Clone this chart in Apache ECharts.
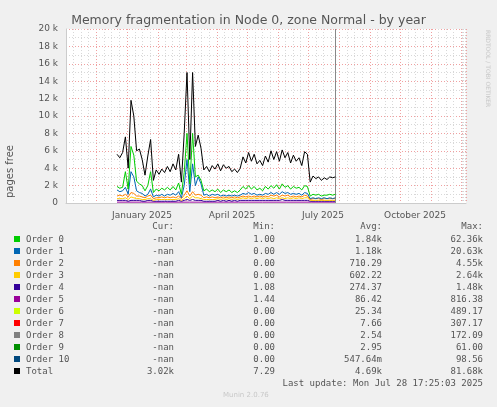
<!DOCTYPE html>
<html><head><meta charset="utf-8">
<script src="https://cdn.jsdelivr.net/npm/echarts@6/dist/echarts.min.js"></script>
<style>html,body{margin:0;background:#f0f0f0}#c{width:497px;height:407px}</style>
</head><body><div id="c"></div>
<script>
// samples every 2.8 days from 2024-12-22, values in thousands of pages
var startDay = '2024-12-22';
var stepDays = 2.8;
var total = [5.6,5.2,5.8,7.6,4.0,11.8,10.0,6.0,6.2,5.0,3.2,5.4,7.3,2.6,3.8,3.3,3.9,3.5,4.2,3.6,4.5,3.8,5.6,2.4,8.0,15.0,5.0,15.0,6.5,7.8,6.3,3.8,4.2,3.6,4.3,3.9,4.5,3.7,4.4,4.0,4.2,3.6,3.9,3.5,4.0,5.3,4.6,5.8,4.8,5.6,4.5,4.9,4.3,5.4,4.7,6.0,5.0,5.9,4.8,6.1,5.2,5.8,4.6,5.5,4.8,5.2,4.3,5.9,5.6,2.4,3.1,2.8,3.0,2.6,2.9,2.7,3.0,2.9,3.0];
var order0 = [1.9,1.7,1.8,3.6,1.6,6.5,5.5,2.5,2.2,2.0,1.4,2.0,3.6,1.2,1.6,1.4,1.7,1.5,1.8,1.5,1.9,1.5,2.3,1.0,3.5,8.0,2.2,8.0,3.0,3.2,2.6,1.4,1.6,1.3,1.5,1.3,1.6,1.2,1.5,1.3,1.5,1.2,1.4,1.2,1.5,1.9,1.6,2.0,1.6,1.9,1.5,1.7,1.4,1.9,1.6,2.0,1.7,2.1,1.6,2.2,1.8,2.0,1.6,1.9,1.7,1.8,1.5,2.0,1.9,0.8,1.0,0.9,1.0,0.8,0.9,0.9,1.0,0.9,1.0];
var order1 = [1.5,1.3,1.4,1.8,1.0,3.6,3.0,1.4,1.2,1.1,0.8,1.0,1.6,0.7,0.9,0.8,1.0,0.8,1.0,0.9,1.1,0.9,1.3,0.6,2.0,5.0,1.3,4.5,2.0,3.0,2.2,0.9,1.0,0.8,1.0,0.9,1.0,0.8,0.9,0.8,0.9,0.8,0.9,0.8,0.9,1.1,1.0,1.2,1.0,1.1,0.9,1.0,0.9,1.1,1.0,1.2,1.0,1.2,1.0,1.3,1.1,1.2,1.0,1.1,1.0,1.1,0.9,1.2,1.1,0.5,0.6,0.5,0.6,0.5,0.6,0.5,0.6,0.5,0.6];
var order2 = [0.8,0.9,0.8,1.0,0.7,1.2,1.1,0.8,0.8,0.7,0.6,0.8,0.9,0.5,0.6,0.6,0.7,0.6,0.7,0.6,0.7,0.6,0.8,0.5,0.9,1.4,0.8,1.3,0.9,1.0,0.9,0.6,0.7,0.6,0.7,0.6,0.7,0.6,0.7,0.6,0.7,0.6,0.7,0.6,0.7,0.8,0.7,0.8,0.7,0.8,0.7,0.8,0.7,0.8,0.7,0.9,0.8,0.9,0.7,0.9,0.8,0.9,0.7,0.8,0.7,0.8,0.7,0.9,0.8,0.4,0.5,0.5,0.5,0.4,0.5,0.5,0.5,0.5,0.5];
var order3 = [0.5,0.5,0.5,0.6,0.4,0.7,0.6,0.5,0.5,0.4,0.4,0.5,0.5,0.3,0.4,0.4,0.4,0.4,0.4,0.4,0.4,0.4,0.5,0.3,0.5,0.8,0.5,0.8,0.6,0.6,0.5,0.4,0.4,0.4,0.4,0.4,0.5,0.4,0.5,0.4,0.5,0.4,0.5,0.4,0.5,0.6,0.5,0.6,0.5,0.6,0.5,0.6,0.5,0.6,0.5,0.6,0.5,0.6,0.5,0.6,0.5,0.6,0.5,0.6,0.5,0.6,0.5,0.6,0.6,0.3,0.3,0.3,0.3,0.3,0.3,0.3,0.3,0.3,0.3];
var order4 = [0.3,0.3,0.3,0.3,0.2,0.3,0.3,0.3,0.3,0.2,0.2,0.3,0.3,0.2,0.2,0.2,0.2,0.2,0.2,0.2,0.2,0.2,0.3,0.2,0.3,0.4,0.3,0.4,0.3,0.3,0.3,0.2,0.2,0.2,0.2,0.2,0.3,0.2,0.3,0.2,0.3,0.2,0.3,0.2,0.3,0.3,0.3,0.3,0.3,0.3,0.3,0.3,0.3,0.3,0.3,0.3,0.3,0.3,0.3,0.4,0.3,0.3,0.3,0.3,0.3,0.3,0.3,0.3,0.3,0.2,0.2,0.2,0.2,0.2,0.2,0.2,0.2,0.2,0.2];
var order5 = [0.1,0.1,0.1,0.1,0.1,0.1,0.1,0.1,0.1,0.1];
var names = ['Order 0','Order 1','Order 2','Order 3','Order 4','Order 5','Order 6','Order 7','Order 8','Order 9','Order 10','Total'];
var colors = ['#00cc00','#0066b3','#ff8000','#ffcc00','#330099','#990099','#ccff00','#ff0000','#808080','#008f00','#00487d','#000000'];
var curVals = ['-nan','-nan','-nan','-nan','-nan','-nan','-nan','-nan','-nan','-nan','-nan','3.02k'];
var minVals = ['1.00','0.00','0.00','0.00','1.08','1.44','0.00','0.00','0.00','0.00','0.00','7.29'];
var avgVals = ['1.84k','1.18k','710.29','602.22','274.37','86.42','25.34','7.66','2.54','2.95','547.64m','4.69k'];
var maxVals = ['62.36k','20.63k','4.55k','2.64k','1.48k','816.38','489.17','307.17','172.09','61.00','98.56','81.68k'];

var t0 = new Date(startDay + 'T00:00:00Z').getTime();
var dayMs = 86400000;
function pts(arr) {
  var step = arr.length < 20 ? (total.length - 1) * stepDays / (arr.length - 1) : stepDays;
  return arr.map(function (v, i) { return [t0 + i * step * dayMs, v]; });
}
var seriesData = [order0, order1, order2, order3, order4, order5];
var series = [];
[4, 5, 3, 2, 1, 0].forEach(function (k) {
  series.push({ type: 'line', name: names[k], data: pts(seriesData[k]), showSymbol: false,
    lineStyle: { width: 1, color: colors[k] }, z: 2 + (5 - k) });
});
series.push({ type: 'line', name: 'Total', data: pts(total), showSymbol: false, z: 10,
  lineStyle: { width: 1, color: '#000' },
  markLine: { silent: true, symbol: 'none', label: { show: false },
    lineStyle: { color: '#888', type: 'solid', width: 1 },
    data: [{ xAxis: new Date('2025-07-28T17:25:00Z').getTime() }] } });

var mono = 'DejaVu Sans Mono';
var g = [];
var cols = [[174, curVals], [275, minVals], [382, avgVals], [483, maxVals]];
['Cur:', 'Min:', 'Avg:', 'Max:'].forEach(function (h, j) {
  g.push({ type: 'text', right: 497 - cols[j][0], top: 222, style: { text: h, font: '9px ' + mono, fill: '#555' } });
});
names.forEach(function (n, i) {
  var y = 235 + i * 12;
  g.push({ type: 'rect', shape: { x: 14, y: y + 1, width: 6, height: 6 }, style: { fill: colors[i] } });
  g.push({ type: 'text', left: 26, top: y, style: { text: n, font: '9px ' + mono, fill: '#555' } });
  cols.forEach(function (c) {
    g.push({ type: 'text', right: 497 - c[0], top: y, style: { text: c[1][i], font: '9px ' + mono, fill: '#555' } });
  });
});
g.push({ type: 'text', right: 14, top: 379, style: { text: 'Last update: Mon Jul 28 17:25:03 2025', font: '9px ' + mono, fill: '#555' } });
g.push({ type: 'text', left: 223, top: 392, style: { text: 'Munin 2.0.76', font: '7px DejaVu Sans', fill: '#c8c8c8' } });
g.push({ type: 'text', left: 485, top: 30, rotation: -Math.PI / 2, style: { text: 'RRDTOOL / TOBI OETIKER', font: '6px DejaVu Sans', fill: '#c8c8c8' } });
g.push({ type: 'text', left: 5, top: 145, rotation: Math.PI / 2, style: { text: 'pages free', font: '10px DejaVu Sans', fill: '#555' } });

var chart = echarts.init(document.getElementById('c'));
chart.setOption({
  backgroundColor: '#f0f0f0',
  animation: false,
  title: { text: 'Memory fragmentation in Node 0, zone Normal - by year', left: 'center', top: 9,
    textStyle: { fontFamily: 'DejaVu Sans', fontSize: 12.5, fontWeight: 'normal', color: '#555' } },
  grid: { left: 66, right: 31, top: 29, bottom: 204, backgroundColor: '#fff', show: true, borderWidth: 0 },
  xAxis: {
    type: 'time',
    min: new Date('2024-11-01T00:00:00Z').getTime(),
    max: new Date('2025-12-06T00:00:00Z').getTime(),
    minInterval: 28 * dayMs, maxInterval: 31 * dayMs,
    axisLine: { lineStyle: { color: '#ccc' } },
    axisTick: { show: false },
    axisLabel: { fontFamily: 'DejaVu Sans', fontSize: 9, color: '#555', hideOverlap: false,
      padding: [0, 0, 0, 30],
      formatter: function (v) {
        var d = new Date(v), m = d.getUTCMonth();
        var nm = { 0: 'January', 3: 'April', 6: 'July', 9: 'October' };
        return nm[m] !== undefined ? nm[m] + ' ' + d.getUTCFullYear() : '';
      } },
    splitLine: { show: true, lineStyle: { color: '#f0a0a0', type: [1, 2] } },
    minorTick: { show: true, splitNumber: 4, length: 0 },
    minorSplitLine: { show: true, lineStyle: { color: '#d8d8d8', type: [1, 2] } }
  },
  yAxis: {
    type: 'value', min: 0, max: 20, interval: 2,
    axisLine: { show: true, lineStyle: { color: '#ccc' } },
    axisTick: { show: false },
    axisLabel: { fontFamily: 'DejaVu Sans', fontSize: 9, color: '#555',
      formatter: function (v) { return v === 0 ? '0' : v + ' k'; } },
    splitLine: { lineStyle: { color: '#f0a0a0', type: [1, 2] } },
    minorTick: { show: true, splitNumber: 2, length: 0 },
    minorSplitLine: { show: true, lineStyle: { color: '#d8d8d8', type: [1, 2] } }
  },
  series: series,
  graphic: g
});
</script></body></html>
